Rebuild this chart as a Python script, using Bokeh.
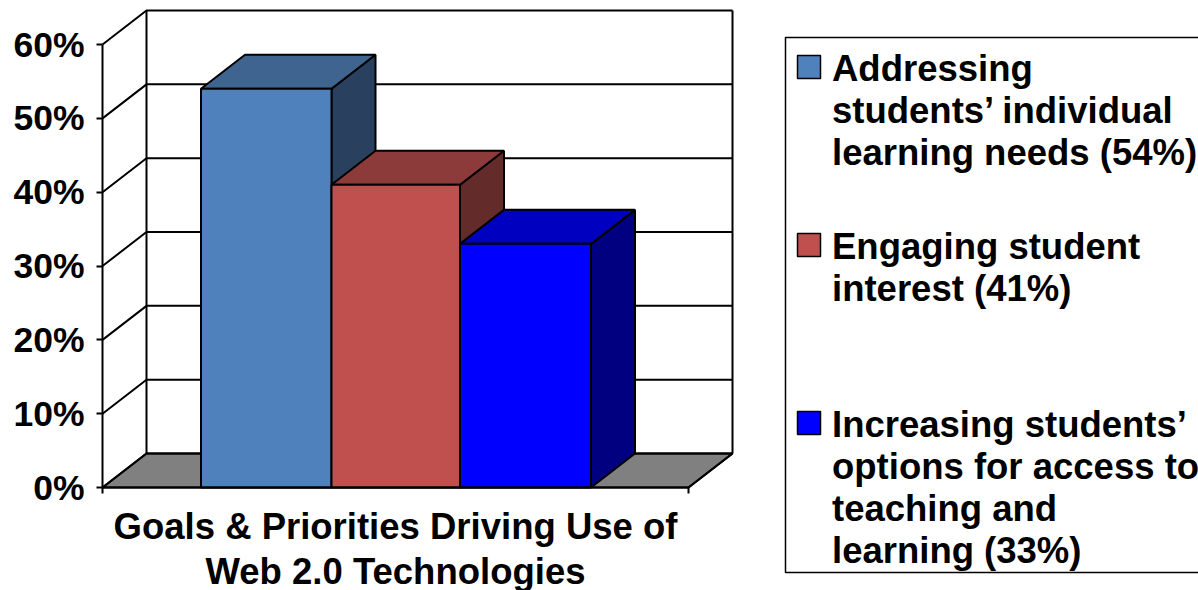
from bokeh.plotting import figure
from bokeh.models import FixedTicker, Label, BoxAnnotation
from bokeh.embed import file_html
from bokeh.resources import INLINE

# --- data ---
series_names = ["Addressing students' individual learning needs", "Engaging student interest",
                "Increasing students' options for access to teaching and learning"]
series_values = [54, 41, 33]
y_ticks = [0, 10, 20, 30, 40, 50, 60]
y_tick_labels = ["0%", "10%", "20%", "30%", "40%", "50%", "60%"]
x_title_lines = ["Goals & Priorities Driving Use of", "Web 2.0 Technologies"]
legend_blocks = [
    ["Addressing", "students\u2019 individual", "learning needs (54%)"],
    ["Engaging student", "interest (41%)"],
    ["Increasing students\u2019", "options for access to", "teaching and", "learning (33%)"],
]
front_colors = ["#4F81BD", "#C0504D", "#0000FF"]
top_colors = ["#3F6490", "#8D3B3A", "#0000C0"]
side_colors = ["#29415F", "#632B2A", "#000080"]

# --- layout ---
W, H = 1198, 590
FONT = "Liberation Sans"
FS = "36.5px"
TICK_FS = "35.5px"
LW = 2
TEXT_SHIFT = -12.5               # label anchor vs. the drawn baseline, pixels
X_PX, Y_PX = 130.0, 7.383        # pixels per bar / per percent
X_ORIGIN, Y_ORIGIN = 200.5, 487  # canvas position of bar start / 0 %
LEFT_PX, AXIS_RIGHT_PX = 102, 688
fx = lambda px: (px - X_ORIGIN) / X_PX
fy = lambda py: (Y_ORIGIN - py) / Y_PX
DX, DY = 44 / X_PX, 34 / Y_PX
XL, XR = fx(LEFT_PX), fx(AXIS_RIGHT_PX)
YTOP = y_ticks[-1]
bar_edges = [fx(200.5), fx(331), fx(459.5), fx(590.5)]

p = figure(width=W, height=H, output_backend="svg", toolbar_location=None,
           x_range=(fx(0), fx(W)), y_range=(fy(H), fy(0)),
           min_border=0, outline_line_color=None,
           background_fill_color="white", border_fill_color="white")
p.styles = {"position": "absolute", "left": "0px", "top": "0px"}
p.grid.visible = False

# 3-D walls and floor
wall_l, wall_r = XL + DX, XR + DX
p.patch([XL, XR, wall_r, wall_l], [0, 0, DY, DY], fill_color="#808080", line_color="black", line_width=LW)
p.line([wall_l, wall_l], [DY, YTOP + DY], line_color="black", line_width=LW)
p.line([wall_r, wall_r], [DY, YTOP + DY], line_color="black", line_width=LW)
for t in y_ticks:
    p.line([XL, wall_l, wall_r], [t, t + DY, t + DY], line_color="black", line_width=LW)
p.line([XR, wall_r], [0, DY], line_color="black", line_width=LW)

# bars
for i, v in enumerate(series_values):
    a, b = bar_edges[i], bar_edges[i + 1]
    p.patch([b, b + DX, b + DX, b], [0, DY, v + DY, v], fill_color=side_colors[i],
            line_color="black", line_width=LW)
    p.patch([a, a + DX, b + DX, b], [v, v + DY, v + DY, v], fill_color=top_colors[i],
            line_color="black", line_width=LW)
    p.quad(left=[a], right=[b], bottom=[0], top=[v], fill_color=front_colors[i],
           line_color="black", line_width=LW)

# axes, placed at the chart's corner inside the full-canvas frame
yax = p.yaxis[0]
yax.fixed_location = XL
yax.ticker = FixedTicker(ticks=y_ticks)
yax.major_label_overrides = {t: s for t, s in zip(y_ticks, y_tick_labels)}
yax.bounds = (y_ticks[0], y_ticks[-1])
yax.major_tick_in = 0
yax.major_tick_out = 6
yax.minor_tick_in = yax.minor_tick_out = 0
yax.major_label_standoff = 12
yax.major_label_text_font = FONT
yax.major_label_text_font_size = TICK_FS
yax.major_label_text_font_style = "bold"
yax.major_label_text_color = "black"
yax.axis_line_color = "black"
yax.axis_line_width = LW
yax.major_tick_line_color = "black"
yax.major_tick_line_width = LW

xax = p.xaxis[0]
xax.fixed_location = 0
xax.ticker = FixedTicker(ticks=[XL, XR])
xax.major_label_overrides = {XL: " ", XR: " "}
xax.bounds = (XL, XR)
xax.major_tick_in = 0
xax.major_tick_out = 6
xax.minor_tick_in = xax.minor_tick_out = 0
xax.axis_line_color = "black"
xax.axis_line_width = LW
xax.major_tick_line_color = "black"
xax.major_tick_line_width = LW

# axis title
def text(x, py, s, align="left"):
    p.add_layout(Label(x=x, y=fy(py + TEXT_SHIFT), text=s, text_font=FONT, text_font_size=FS,
                       text_font_style="bold", text_color="black",
                       text_align=align, text_baseline="alphabetic"))

for py, s in zip([538, 583], x_title_lines):
    text((XL + XR) / 2, py, s, "center")

# legend
p.add_layout(BoxAnnotation(left=fx(785), right=fx(W + 20), top=fy(37), bottom=fy(572),
                           fill_color="white", fill_alpha=1, line_color="black",
                           line_alpha=1, line_width=1.5))
swatch_tops = [55, 233, 411]
line_baselines = [[80, 122, 164], [258, 300], [436, 478, 520, 562]]
for i, lines in enumerate(legend_blocks):
    p.add_layout(BoxAnnotation(left=fx(797), right=fx(820), top=fy(swatch_tops[i]),
                               bottom=fy(swatch_tops[i] + 23), fill_color=front_colors[i],
                               fill_alpha=1, line_color="black", line_alpha=1, line_width=1.5))
    for py, s in zip(line_baselines[i], lines):
        text(fx(831.5), py, s)

open("out.html", "w").write(file_html(p, INLINE))
